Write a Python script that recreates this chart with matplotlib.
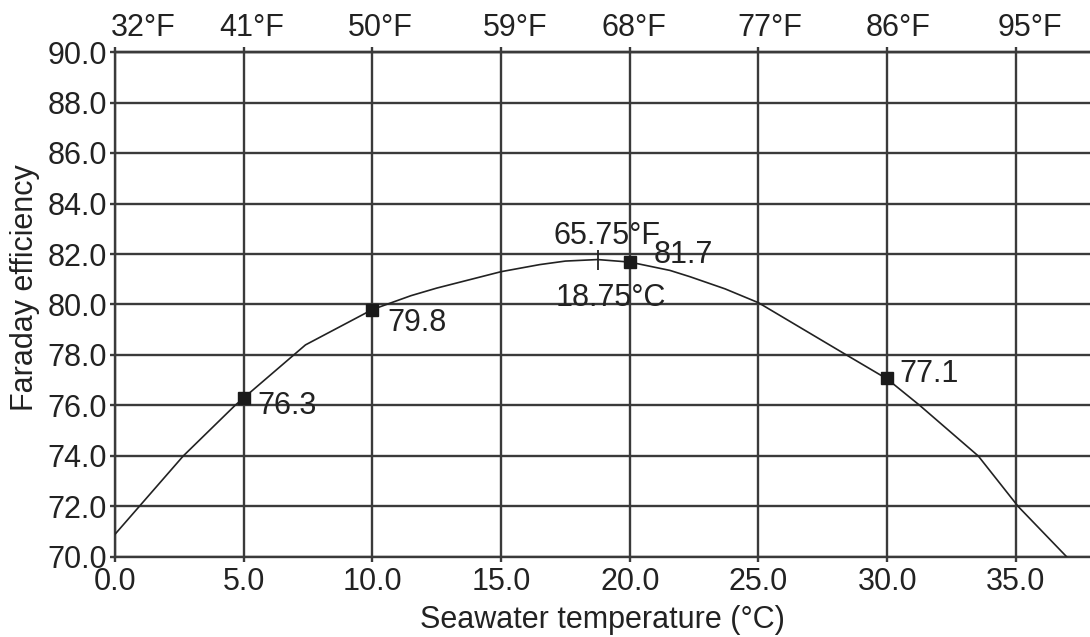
import matplotlib
matplotlib.use("Agg")
import matplotlib.pyplot as plt
from matplotlib.transforms import ScaledTranslation

plt.rcParams['font.family'] = ['Liberation Sans', 'DejaVu Sans']

# Curve (°C, efficiency %)
curve_x = [0, 2.65, 4.66, 5, 7.4, 10, 10.68, 11.5, 12.5, 15, 16.5, 17.5,
           18.75, 20, 21.56, 22.34, 23.7, 25, 28.42, 30, 31.27,
           33.54, 35.09, 37.17]
curve_y = [70.9, 74.0, 76.0, 76.3, 78.4, 79.8, 80.05, 80.35, 80.65, 81.3,
           81.58, 81.72, 81.78, 81.68, 81.35, 81.1, 80.62, 80.07,
           78.0, 77.05, 76.0, 74.0, 72.0, 69.8]

# Measured points
mark_x = [5, 10, 20, 30]
mark_y = [76.3, 79.8, 81.7, 77.1]

peak_x = 18.75
peak_y = 81.78

x_ticks = [0, 5, 10, 15, 20, 25, 30, 35]
y_ticks = [70, 72, 74, 76, 78, 80, 82, 84, 86, 88, 90]
f_ticks = [32, 41, 50, 59, 68, 77, 86, 95]

GRID = '#3a3a3a'
TXT = '#222222'
FS = 22

fig = plt.figure(figsize=(10.9, 6.37), dpi=100)
ax = fig.add_axes([115/1090, 80/637, 1 - 115/1090, (557-52)/637])
ax.set_xlim(0, 37.88)
ax.set_ylim(70, 90)

ax.set_xticks(x_ticks)
ax.set_xticklabels([f"{v:.1f}" for v in x_ticks])
ax.set_yticks(y_ticks)
ax.set_yticklabels([f"{v:.1f}" for v in y_ticks])
ax.grid(True, color=GRID, lw=1.7)
ax.set_axisbelow(True)
for s in ['left', 'bottom', 'top']:
    ax.spines[s].set_color(GRID)
    ax.spines[s].set_linewidth(1.7)
ax.spines['right'].set_visible(False)
ax.tick_params(direction='out', length=3.6, width=1.7, color=GRID,
               labelsize=FS, labelcolor=TXT, pad=2)
ax.tick_params(axis='x', pad=3.5)

ax.plot(curve_x, curve_y, color='#222222', lw=1.2, zorder=3)
ax.plot(mark_x, mark_y, ls='none', marker='s', ms=8.5, color='#1a1a1a', zorder=4)
ax.plot([peak_x], [peak_y], ls='none', marker='|', ms=14, mew=1.3, color='#222222', zorder=4)

offsets = [(10, -5.5), (11, -9.5), (17, 5), (8.6, 2.5)]
for x, y, (dx, dy) in zip(mark_x, mark_y, offsets):
    ax.annotate(f"{y:.1f}", (x, y), xytext=(dx, dy), textcoords='offset points',
                ha='left', va='center', fontsize=FS, color=TXT, zorder=5)

peak_f = peak_x * 9 / 5 + 32
ax.annotate(f"{peak_f:.2f}°F", (peak_x, peak_y), xytext=(7, 17), textcoords='offset points',
            ha='center', va='center', fontsize=FS, color=TXT, zorder=5)
ax.annotate(f"{peak_x:.2f}°C", (peak_x, peak_y), xytext=(9.4, -28), textcoords='offset points',
            ha='center', va='center', fontsize=FS, color=TXT, zorder=5)

ax.set_xlabel("Seawater temperature (°C)", fontsize=FS, color=TXT, labelpad=6)
ax.set_ylabel("Faraday efficiency", fontsize=FS, color=TXT, va='center')
ax.yaxis.set_label_coords(-0.0923, 0.533)

secax = ax.secondary_xaxis('top', functions=(lambda c: c * 9 / 5 + 32,
                                             lambda f: (f - 32) * 5 / 9))
secax.set_xticks(f_ticks)
secax.set_xticklabels([f"{v}°F" for v in f_ticks])
secax.tick_params(direction='out', length=3.6, width=1.7, color=GRID,
                  labelsize=FS, labelcolor=TXT, pad=3)
secax.spines['top'].set_color(GRID)
secax.spines['top'].set_linewidth(1.7)
label_shift = [28, 8, 8, 14, 4, 11, 11, 14]
for lab, dx in zip(secax.get_xticklabels(), label_shift):
    lab.set_transform(lab.get_transform() + ScaledTranslation(dx / 100, 0, fig.dpi_scale_trans))

fig.savefig("out.png", dpi=100)
